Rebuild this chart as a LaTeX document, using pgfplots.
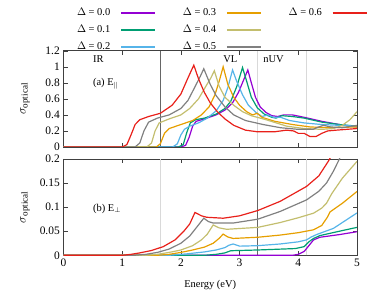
\documentclass[border=0pt]{standalone}
\usepackage{pgfplots}
\pgfplotsset{compat=1.18}
\usepackage{fontspec}
\setmainfont{Liberation Serif}
\definecolor{c0}{HTML}{9400D3}
\definecolor{c1}{HTML}{009E73}
\definecolor{c2}{HTML}{56B4E9}
\definecolor{c3}{HTML}{E69F00}
\definecolor{c4}{HTML}{C3BE6E}
\definecolor{c5}{HTML}{808080}
\definecolor{c6}{HTML}{E8201A}
\pgfplotsset{
  myaxis/.style={
    scale only axis, width=293.5bp, height=96.3bp,
    xmin=0, xmax=5, xtick={0,1,2,3,4,5},
    tick align=inside, major tick length=4bp,
    axis line style={black!75}, tick style={black!75},
    /pgf/number format/assume math mode=true,
    tick label style={font=\fontsize{11.5}{13}\selectfont},
    ylabel={$\sigma_{\mathrm{optical}}$},
    ylabel style={at={(axis description cs:-0.131,0.5)}, anchor=center, font=\fontsize{13}{14}\selectfont},
    every axis plot/.append style={line width=1.2pt},
  },
  vdark/.style={black!60, line width=0.6pt, forget plot},
  vlight/.style={black!15, line width=0.6pt, forget plot},
}
\begin{document}
\fontsize{10.5}{12}\selectfont
\begin{tikzpicture}
\useasboundingbox (0,0) rectangle (374bp,300bp);
% top panel
\begin{axis}[myaxis, at={(63.5bp,153bp)}, anchor=south west,
  ymin=0, ymax=1.2, ytick={0,0.2,0.4,0.6,0.8,1,1.2},
  xticklabel=\empty,
  legend columns=3,
  legend plot pos=right,
  legend cell align=right,
  legend image code/.code={\draw[#1, line width=1.5pt] (0bp,0bp) -- (34bp,0bp);},
  legend style={draw=none, fill=none, at={(axis description cs:1.036,1.48)}, anchor=north east,
    font=\fontsize{10.5}{12}\selectfont, inner sep=0pt, row sep=0bp,
    nodes={text height=8.5bp, text depth=4.5bp},
    /tikz/every even column/.append style={column sep=25bp},
    /tikz/every odd column/.append style={column sep=8bp}},
]
\addplot[vdark] coordinates {(1.65,0) (1.65,1.2)};
\addplot[vlight] coordinates {(3.3,0) (3.3,1.2)};
\addplot[vlight] coordinates {(4.13,0) (4.13,1.2)};
\addplot[c0, forget plot] coordinates {(0,0) (2.0,0) (2.08,0.02) (2.14,0.12) (2.2,0.26) (2.26,0.32) (2.4,0.35) (2.6,0.40) (2.75,0.46) (2.88,0.55) (2.98,0.68) (3.06,0.82) (3.14,0.96) (3.2,0.80) (3.27,0.62) (3.35,0.50) (3.45,0.43) (3.55,0.39) (3.65,0.38) (3.75,0.40) (3.9,0.40) (4.1,0.37) (4.4,0.32) (4.7,0.28) (5.0,0.25)};
\addplot[c1, forget plot] coordinates {(0,0) (1.96,0) (2.04,0.03) (2.1,0.18) (2.16,0.30) (2.25,0.34) (2.4,0.36) (2.6,0.41) (2.75,0.48) (2.85,0.57) (2.95,0.75) (3.05,0.99) (3.12,0.82) (3.2,0.62) (3.3,0.49) (3.42,0.41) (3.55,0.37) (3.62,0.36) (3.72,0.39) (3.9,0.38) (4.1,0.36) (4.4,0.31) (4.7,0.28) (5.0,0.26)};
\addplot[c2, forget plot] coordinates {(0,0) (1.86,0) (1.94,0.04) (2.0,0.15) (2.06,0.22) (2.15,0.26) (2.3,0.30) (2.45,0.36) (2.6,0.45) (2.72,0.58) (2.8,0.74) (2.88,0.96) (2.95,0.82) (3.05,0.65) (3.15,0.52) (3.28,0.43) (3.38,0.38) (3.48,0.40) (3.58,0.37) (3.7,0.37) (3.85,0.33) (4.1,0.30) (4.4,0.28) (4.7,0.27) (5.0,0.26)};
\addplot[c3, forget plot] coordinates {(0,0) (1.58,0) (1.65,0.04) (1.72,0.17) (1.8,0.23) (2.0,0.28) (2.2,0.33) (2.35,0.40) (2.48,0.50) (2.58,0.65) (2.66,0.84) (2.72,1.0) (2.8,0.78) (2.9,0.62) (3.0,0.52) (3.12,0.44) (3.22,0.40) (3.3,0.42) (3.38,0.37) (3.6,0.32) (3.9,0.28) (4.2,0.25) (4.5,0.24) (5.0,0.25)};
\addplot[c4, forget plot] coordinates {(0,0) (1.42,0) (1.5,0.05) (1.56,0.2) (1.63,0.3) (1.8,0.35) (2.0,0.40) (2.15,0.48) (2.3,0.60) (2.42,0.75) (2.51,0.86) (2.57,0.95) (2.65,0.76) (2.75,0.62) (2.9,0.52) (3.05,0.44) (3.2,0.39) (3.45,0.34) (3.8,0.26) (4.1,0.23) (4.4,0.22) (4.6,0.23) (4.75,0.27) (4.88,0.34) (5.0,0.44)};
\addplot[c5, forget plot] coordinates {(0,0) (1.22,0) (1.3,0.05) (1.37,0.2) (1.45,0.31) (1.6,0.36) (1.8,0.40) (2.0,0.48) (2.12,0.58) (2.24,0.75) (2.33,0.88) (2.39,0.975) (2.5,0.78) (2.6,0.64) (2.75,0.50) (2.9,0.40) (3.1,0.33) (3.4,0.28) (3.7,0.24) (4.0,0.22) (4.25,0.22) (4.35,0.25) (4.43,0.27) (4.55,0.25) (4.75,0.24) (5.0,0.27)};
\addplot[c6, forget plot] coordinates {(0,0) (1.0,0) (1.08,0.03) (1.15,0.15) (1.22,0.28) (1.3,0.34) (1.45,0.38) (1.65,0.42) (1.85,0.52) (2.0,0.66) (2.12,0.86) (2.22,1.02) (2.3,0.85) (2.4,0.68) (2.5,0.55) (2.62,0.44) (2.75,0.35) (2.9,0.27) (3.1,0.21) (3.3,0.19) (3.6,0.19) (3.8,0.21) (3.92,0.20) (4.0,0.17) (4.1,0.17) (4.2,0.13) (4.3,0.13) (4.4,0.17) (4.5,0.2) (4.65,0.21) (5.0,0.23)};
\addlegendimage{c0}\addlegendentry{$\Delta$ = 0.0}
\addlegendimage{c3}\addlegendentry{$\Delta$ = 0.3}
\addlegendimage{c6}\addlegendentry{$\Delta$ = 0.6}
\addlegendimage{c1}\addlegendentry{$\Delta$ = 0.1}
\addlegendimage{c4}\addlegendentry{$\Delta$ = 0.4}
\addlegendimage{empty legend}\addlegendentry{}
\addlegendimage{c2}\addlegendentry{$\Delta$ = 0.2}
\addlegendimage{c5}\addlegendentry{$\Delta$ = 0.5}
\node[anchor=west, inner sep=0pt] at (axis cs:0.5,1.09) {IR};
\node[anchor=west, inner sep=0pt] at (axis cs:2.72,1.09) {VL};
\node[anchor=west, inner sep=0pt] at (axis cs:3.40,1.09) {nUV};
\node[anchor=west, inner sep=0pt] at (axis cs:0.5,0.79) {(a) E$_{\parallel}$};
\end{axis}
% bottom panel
\begin{axis}[myaxis, at={(63.5bp,44.7bp)}, anchor=south west,
  ymin=0, ymax=0.2, ytick={0,0.05,0.1,0.15,0.2},
  yticklabel style={/pgf/number format/fixed, /pgf/number format/precision=2},
  xlabel={Energy (eV)},
  xlabel style={font=\fontsize{10.5}{12}\selectfont, at={(axis description cs:0.5,-0.31)}, anchor=center},
]
\addplot[vlight] coordinates {(1.65,0) (1.65,0.2)};
\addplot[vdark] coordinates {(3.3,0) (3.3,0.2)};
\addplot[vlight] coordinates {(4.13,0) (4.13,0.2)};
\addplot[c0] coordinates {(0,0) (3.9,0) (4.0,0.002) (4.1,0.008) (4.18,0.02) (4.26,0.032) (4.37,0.0375) (4.7,0.043) (5.0,0.049)};
\addplot[c1] coordinates {(0,0) (2.4,0) (2.6,0.002) (2.75,0.005) (2.85,0.0095) (3.3,0.011) (3.95,0.014) (4.1,0.018) (4.18,0.028) (4.26,0.035) (4.37,0.041) (4.7,0.05) (5.0,0.058)};
\addplot[c2] coordinates {(0,0) (1.8,0) (2.1,0.003) (2.4,0.007) (2.6,0.011) (2.75,0.016) (2.82,0.021) (2.89,0.0235) (3.0,0.019) (3.31,0.02) (3.69,0.0235) (4.0,0.028) (4.14,0.032) (4.22,0.038) (4.31,0.043) (4.6,0.056) (5.0,0.088)};
\addplot[c3] coordinates {(0,0) (1.6,0) (1.8,0.002) (2.0,0.006) (2.2,0.011) (2.4,0.017) (2.55,0.025) (2.65,0.035) (2.72,0.044) (2.8,0.038) (2.89,0.035) (3.31,0.0375) (3.69,0.042) (4.0,0.047) (4.26,0.053) (4.4,0.062) (4.5,0.08) (4.54,0.09) (4.75,0.108) (5.0,0.1325)};
\addplot[c4] coordinates {(0,0) (1.4,0) (1.6,0.002) (1.8,0.006) (2.0,0.011) (2.2,0.02) (2.35,0.032) (2.45,0.044) (2.55,0.063) (2.65,0.057) (2.78,0.054) (3.31,0.058) (3.69,0.068) (4.0,0.078) (4.26,0.0875) (4.4,0.098) (4.48,0.108) (4.57,0.128) (4.75,0.16) (5.0,0.195)};
\addplot[c5] coordinates {(0,0) (1.2,0) (1.4,0.002) (1.6,0.006) (1.8,0.013) (2.0,0.025) (2.15,0.04) (2.28,0.06) (2.39,0.077) (2.47,0.07) (2.55,0.067) (2.89,0.067) (3.31,0.075) (3.69,0.091) (4.14,0.115) (4.35,0.133) (4.48,0.15) (4.6,0.175) (4.7,0.2) (4.8,0.23)};
\addplot[c6] coordinates {(0,0) (1.0,0) (1.15,0.002) (1.3,0.005) (1.5,0.01) (1.7,0.018) (1.9,0.032) (2.05,0.05) (2.15,0.065) (2.24,0.089) (2.35,0.082) (2.44,0.079) (2.72,0.077) (3.0,0.082) (3.31,0.093) (3.69,0.112) (4.14,0.143) (4.35,0.165) (4.51,0.195) (4.6,0.215) (4.8,0.25)};
\node[anchor=west, inner sep=0pt] at (axis cs:0.5,0.097) {(b) E$_{\perp}$};
\end{axis}
\end{tikzpicture}
\end{document}
